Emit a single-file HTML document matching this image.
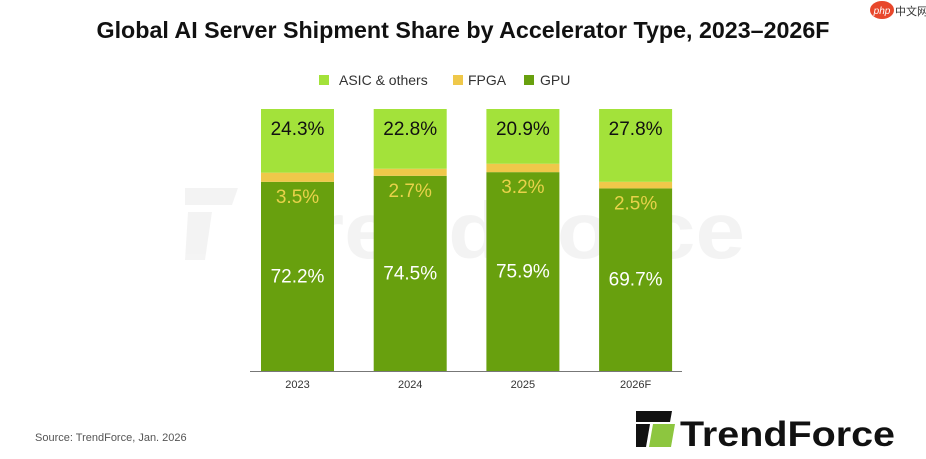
<!DOCTYPE html>
<html><head><meta charset="utf-8"><style>
html,body{margin:0;padding:0;background:#fff;}
svg{display:block;font-family:"Liberation Sans",sans-serif;}
</style></head><body>
<svg id="chart" width="926" height="459" viewBox="0 0 926 459">
<text x="463" y="38" text-anchor="middle" font-size="23" font-weight="bold" fill="#111" textLength="733" lengthAdjust="spacingAndGlyphs">Global AI Server Shipment Share by Accelerator Type, 2023–2026F</text>
<g>
<ellipse cx="882" cy="10" rx="12" ry="9" fill="#e8472b"/>
<text x="882" y="14" text-anchor="middle" font-size="10" fill="#fff" font-style="italic">php</text>
<text x="895" y="15" font-size="11" fill="#333" font-family="'Noto Sans CJK SC',sans-serif">中文网</text>
</g>
<g opacity="0.045">
<polygon points="185,188 238,188 232,205 185,205" fill="#000"/>
<polygon points="188,212 212,212 205,260 185,260" fill="#000"/>
<text x="260" y="258" font-size="80" font-weight="bold" fill="#000" textLength="485" lengthAdjust="spacingAndGlyphs">TrendForce</text>
</g>
<g id="legend">
<g><rect x="319" y="75" width="10" height="10" fill="#a3e23a"/><text x="339" y="85" font-size="14" fill="#333">ASIC &amp; others</text></g>
<g><rect x="453" y="75" width="10" height="10" fill="#efc84a"/><text x="468" y="85" font-size="14" fill="#333">FPGA</text></g>
<g><rect x="524" y="75" width="10" height="10" fill="#68a00e"/><text x="540" y="85" font-size="14" fill="#333">GPU</text></g>
</g>
<g id="bars"></g>
<line x1="250" y1="371.5" x2="682" y2="371.5" stroke="#777" stroke-width="1"/>
<g id="xlabels"></g>
<text x="35" y="441" font-size="11" fill="#555">Source: TrendForce, Jan. 2026</text>
<g>
<polygon points="636,411 672,411 670,422 636,422" fill="#111"/>
<polygon points="636,424 650,424 646,447 636,447" fill="#111"/>
<polygon points="653,424 675,424 671,447 649,447" fill="#8dc63f"/>
<text x="680" y="446" font-size="35" font-weight="bold" fill="#111" textLength="215" lengthAdjust="spacingAndGlyphs">TrendForce</text>
</g>
</svg>
<script>
const categories = ["2023","2024","2025","2026F"];
const gpu = [72.2,74.5,75.9,69.7];
const fpga = [3.5,2.7,3.2,2.5];
const asic = [24.3,22.8,20.9,27.8];
const NS="http://www.w3.org/2000/svg";
const baseY=371, plotH=262, x0=261, step=112.7, bw=73;
const yScale=v=>v/100*plotH;
const xPos=i=>x0+i*step;
const bars=document.getElementById('bars'), xl=document.getElementById('xlabels');
function mk(tag,attrs,parent){const e=document.createElementNS(NS,tag);for(const k in attrs)e.setAttribute(k,attrs[k]);parent.appendChild(e);return e;}
categories.forEach((c,i)=>{
  const x=xPos(i);
  const hg=yScale(gpu[i]), hf=yScale(fpga[i]), ha=yScale(asic[i]);
  const g=mk('g',{},bars);
  
  
  const r1=mk('rect',{x:x,y:baseY-hg,width:bw,height:hg,fill:'#68a00e'},g);
  
  
  const r2=mk('rect',{x:x,y:baseY-hg-hf,width:bw,height:hf,fill:'#efc84a'},g);
  
  
  const r3=mk('rect',{x:x,y:baseY-hg-hf-ha,width:bw,height:ha,fill:'#a3e23a'},g);
  
  
  const t1=mk('text',{x:x+bw/2,y:baseY-hg/2+6,'text-anchor':'middle','font-size':19,fill:'#fff'},g);
  t1.textContent=gpu[i].toFixed(1)+'%';
  
  
  const t2=mk('text',{x:x+bw/2,y:baseY-hg+21,'text-anchor':'middle','font-size':19,fill:'#e8d24a'},g);
  t2.textContent=fpga[i].toFixed(1)+'%';
  
  
  const t3=mk('text',{x:x+bw/2,y:baseY-hg-hf-ha+26,'text-anchor':'middle','font-size':19,fill:'#111'},g);
  t3.textContent=asic[i].toFixed(1)+'%';
  
  
  const xt=mk('text',{x:x+bw/2,y:388,'text-anchor':'middle','font-size':11,fill:'#333'},xl);
  xt.textContent=c;
  
  
});
</script>
</body></html>
